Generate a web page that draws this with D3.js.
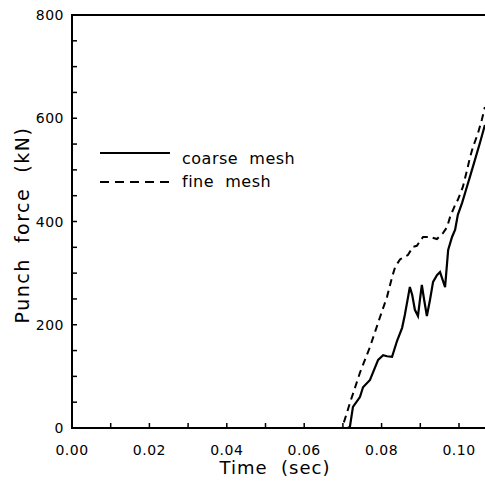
<!DOCTYPE html>
<html><head><meta charset="utf-8">
<script src="https://cdn.jsdelivr.net/npm/d3@7/dist/d3.min.js"></script>
<style>body{margin:0;background:#fff}svg{display:block}text{font-family:"DejaVu Sans",sans-serif;fill:#000;white-space:pre}</style>
</head><body>
<script>
const xTickLabels = ["0.00","0.02","0.04","0.06","0.08","0.10"];
const yTickLabels = ["0","200","400","600","800"];
const coarseX = [0,0.0712,0.0718,0.0726,0.0744,0.0752,0.0770,0.0791,0.0804,0.0814,0.0827,0.0840,0.0853,0.0860,0.0868,0.0873,0.0879,0.0886,0.0894,0.0899,0.0904,0.0910,0.0917,0.0925,0.0933,0.0943,0.0951,0.0956,0.0964,0.0972,0.0982,0.0990,0.0997,0.1008,0.1018,0.1028,0.1041,0.1054,0.1067];
const coarseY = [0,0,2,41,60,79,93,132,141,139,138,169,194,219,252,273,258,229,217,248,277,248,217,248,283,296,302,291,273,345,370,384,413,436,461,486,519,552,587];
const fineX = [0,0.0698,0.0718,0.0744,0.0770,0.0796,0.0814,0.0827,0.0835,0.0848,0.0868,0.0881,0.0891,0.0907,0.0925,0.0943,0.0959,0.0969,0.0977,0.0990,0.0997,0.1010,0.1021,0.1028,0.1036,0.1049,0.1059,0.1067];
const fineY = [0,0,48,107,157,215,254,292,312,327,335,351,353,370,370,366,378,389,409,432,442,467,500,523,544,571,597,622];
const legendLabels = ["coarse  mesh","fine  mesh"];

const W=485,H=482;
const svg=d3.select("body").append("svg").attr("width",W).attr("height",H);
const x=d3.scaleLinear().domain([0,0.1]).range([72,459]);
const y=d3.scaleLinear().domain([0,800]).range([428,15]);

// ticks
const g=svg.append("g").attr("stroke","#000").attr("stroke-width",1.5);
d3.range(0,0.1071,0.01).forEach(v=>{
  g.append("line").attr("x1",x(v)).attr("x2",x(v)).attr("y1",428).attr("y2",423);
});
d3.range(0,801,50).forEach(v=>{
  g.append("line").attr("x1",72).attr("x2",77).attr("y1",y(v)).attr("y2",y(v));
});
// axes frame
svg.append("path").attr("d",`M${W},${y(800)}H72V428H${W}`).attr("fill","none").attr("stroke","#000").attr("stroke-width",2);

// tick labels
xTickLabels.forEach(t=>{
  svg.append("text").attr("x",x(+t)).attr("y",455).attr("text-anchor","middle").attr("font-size",14).attr("letter-spacing",0.5).text(t);
});
yTickLabels.forEach(t=>{
  svg.append("text").attr("x",64).attr("y",y(+t)+5).attr("text-anchor","end").attr("font-size",14).attr("letter-spacing",0.5).text(t);
});
svg.append("text").attr("x",275).attr("y",474).attr("text-anchor","middle").attr("font-size",18).attr("letter-spacing",1).text("Time  (sec)");
svg.append("text").attr("transform",`translate(29,${225}) rotate(-90)`).attr("text-anchor","middle").attr("font-size",19).attr("letter-spacing",1.5).text("Punch  force  (kN)");

const line=d3.line().x(d=>x(d[0])).y(d=>y(d[1]));
const coarse=coarseX.map((v,i)=>[v,coarseY[i]]);
const fine=fineX.map((v,i)=>[v,fineY[i]]);
svg.append("path").datum(fine).attr("d",line).attr("fill","none").attr("stroke","#000").attr("stroke-width",2).attr("stroke-dasharray","7,5");
svg.append("path").datum(coarse).attr("d",line).attr("fill","none").attr("stroke","#000").attr("stroke-width",2.2);

// legend
svg.append("line").attr("x1",100).attr("x2",170).attr("y1",153).attr("y2",153).attr("stroke","#000").attr("stroke-width",1.8);
svg.append("line").attr("x1",100).attr("x2",170).attr("y1",182).attr("y2",182).attr("stroke","#000").attr("stroke-width",1.8).attr("stroke-dasharray","9,6");
svg.append("text").attr("x",182).attr("y",164).attr("font-size",16).attr("letter-spacing",0.5).text(legendLabels[0]);
svg.append("text").attr("x",182).attr("y",187).attr("font-size",16).attr("letter-spacing",0.5).text(legendLabels[1]);
</script>
</body></html>
